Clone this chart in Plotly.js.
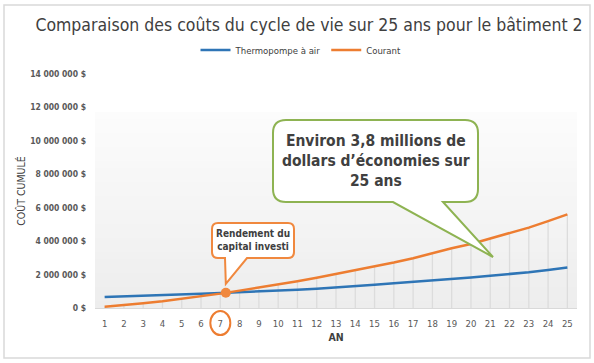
<!DOCTYPE html>
<html><head><meta charset="utf-8">
<script src="https://cdn.plot.ly/plotly-3.0.1.min.js"></script>
<style>html,body{margin:0;padding:0;background:#fff}</style>
</head><body><div id="chart" style="width:594px;height:363px"></div>
<script>
const years = [1,2,3,4,5,6,7,8,9,10,11,12,13,14,15,16,17,18,19,20,21,22,23,24,25];
const thermopompe = [660000,690000,720000,760000,800000,850000,900000,940000,980000,1030000,1090000,1150000,1220000,1310000,1390000,1480000,1560000,1640000,1720000,1820000,1930000,2020000,2140000,2280000,2420000];
const courant = [80000,170000,290000,410000,550000,710000,860000,1040000,1220000,1410000,1600000,1810000,2030000,2260000,2500000,2720000,2980000,3280000,3570000,3830000,4170000,4490000,4810000,5200000,5600000];
const yTickValues = [0,2000000,4000000,6000000,8000000,10000000,12000000,14000000];
const yTickLabels = ['0 $','2 000 000 $','4 000 000 $','6 000 000 $','8 000 000 $','10 000 000 $','12 000 000 $','14 000 000 $'];
const seriesNames = ['Thermopompe à air','Courant'];
const titleText = 'Comparaison des coûts du cycle de vie sur 25 ans pour le bâtiment 2';
const roiText = 'Rendement du<br>capital investi';
const savingsText = 'Environ 3,8 millions de<br>dollars d’économies sur<br>25 ans';

const FONT = "'Liberation Sans Narrow','DejaVu Sans Condensed',Roboto,sans-serif";
const L=95, T=74, W=482, H=234, R=594-L-W, B=363-T-H;
const XR=[0.5,25.5], YR=[0,14000000];
const fx = p => (p-L)/W, fy = p => (T+H-p)/H;
const P = (x,y) => fx(x)+','+fy(y);

// crossing point computed from data
let xc=null, yc=null;
for (let i=0;i<years.length-1;i++){
  const d0=courant[i]-thermopompe[i], d1=courant[i+1]-thermopompe[i+1];
  if (d0<0 && d1>=0){ const t=d0/(d0-d1); xc=years[i]+t*(years[i+1]-years[i]); yc=thermopompe[i]+t*(thermopompe[i+1]-thermopompe[i]); break; }
}
const cpx = L + (xc-XR[0])/(XR[1]-XR[0])*W;
const cpy = T + H - (yc-YR[0])/(YR[1]-YR[0])*H;

function callout(x0,y0,x1,y1,r,b0,b1,tx,ty){
  return 'M'+P(x0+r,y0)+' L'+P(x1-r,y0)+' Q'+P(x1,y0)+' '+P(x1,y0+r)+
    ' L'+P(x1,y1-r)+' Q'+P(x1,y1)+' '+P(x1-r,y1)+
    ' L'+P(b1,y1)+' L'+P(tx,ty)+' L'+P(b0,y1)+
    ' L'+P(x0+r,y1)+' Q'+P(x0,y1)+' '+P(x0,y1-r)+
    ' L'+P(x0,y0+r)+' Q'+P(x0,y0)+' '+P(x0+r,y0)+' Z';
}

const shapes = [];
// background gradient
const g0=112, g1=308, N=28;
for (let i=0;i<N;i++){
  const a=g0+(g1-g0)*i/N, b=g0+(g1-g0)*(i+1)/N;
  const c=Math.round(252-(252-237)*(i+0.5)/N);
  shapes.push({type:'rect',xref:'paper',yref:'paper',x0:0,x1:1,y0:fy(b),y1:fy(a),fillcolor:`rgb(${c},${c},${c})`,line:{width:0},layer:'below'});
}
// outer border
shapes.push({type:'rect',xref:'paper',yref:'paper',x0:fx(4),x1:fx(590),y0:fy(358),y1:fy(5),line:{color:'#d9d9d9',width:1.5},fillcolor:'rgba(0,0,0,0)',layer:'below'});
// green callout
shapes.push({type:'path',xref:'paper',yref:'paper',path:callout(273,120,478,202,13,393,443,493,257),fillcolor:'#ffffff',line:{color:'#8EB352',width:2}});
// orange callout
shapes.push({type:'path',xref:'paper',yref:'paper',path:callout(212,223,294,258,6,225,247,cpx,cpy-9),fillcolor:'#ffffff',line:{color:'#F0883E',width:2}});
// ellipse around year 7 label
const sevenX = L + (7-XR[0])/(XR[1]-XR[0])*W;
shapes.push({type:'circle',xref:'paper',yref:'paper',x0:fx(sevenX-10),x1:fx(sevenX+10),y0:fy(335),y1:fy(311),line:{color:'#ED7D31',width:2},fillcolor:'rgba(0,0,0,0)'});

const traces = [
  {x:years,y:courant,type:'scatter',mode:'markers',marker:{size:1,opacity:0},showlegend:false,hoverinfo:'skip',
   error_y:{type:'data',symmetric:false,array:years.map(()=>0),arrayminus:courant,color:'#dcdcdc',thickness:1.3,width:0}},
  {x:years,y:thermopompe,type:'scatter',mode:'lines',name:seriesNames[0],line:{color:'#2E75B6',width:2.5}},
  {x:years,y:courant,type:'scatter',mode:'lines',name:seriesNames[1],line:{color:'#ED7D31',width:2.5}},
  {x:[xc],y:[yc],type:'scatter',mode:'markers',marker:{color:'#F0883E',size:10},showlegend:false,hoverinfo:'skip'}
];

const layout = {
  width:594,height:363,
  margin:{l:L,r:R,t:T,b:B},
  paper_bgcolor:'#ffffff',plot_bgcolor:'rgba(0,0,0,0)',
  font:{family:FONT,color:'#595959'},
  title:{text:titleText,x:309/594,xanchor:'center',y:1-25/363,yanchor:'middle',font:{family:FONT,size:17.5,color:'#404040'}},
  showlegend:true,
  legend:{orientation:'h',x:fx(301),xanchor:'center',y:fy(50),yanchor:'middle',font:{family:FONT,size:9.5,color:'#404040'},bgcolor:'rgba(0,0,0,0)',traceorder:'normal',itemwidth:30},
  xaxis:{range:XR,tickvals:years,ticktext:years.map(String),showgrid:false,zeroline:false,showline:true,linecolor:'#d9d9d9',linewidth:1.3,ticks:'',
    tickfont:{family:FONT,size:9.5,color:'#595959'},ticklabelstandoff:6,
    title:{text:'AN',font:{family:FONT,size:10.5,color:'#404040',weight:'bold'},standoff:6},automargin:false},
  yaxis:{range:YR,tickvals:yTickValues,ticktext:yTickLabels,showgrid:false,zeroline:false,showline:false,ticks:'',
    tickfont:{family:FONT,size:8.5,color:'#595959',weight:'bold'},ticklabelstandoff:8,
    title:{text:'COÛT CUMULÉ',font:{family:FONT,size:10.5,color:'#404040'},standoff:2},automargin:false},
  shapes:shapes,
  annotations:[
    {xref:'paper',yref:'paper',x:fx(253),y:fy(240),text:roiText,showarrow:false,xanchor:'center',yanchor:'middle',font:{family:FONT,size:10,color:'#404040',weight:'bold'}},
    {xref:'paper',yref:'paper',x:fx(375.5),y:fy(161),text:savingsText,showarrow:false,xanchor:'center',yanchor:'middle',font:{family:FONT,size:15.5,color:'#404040',weight:'bold'}}
  ]
};
Plotly.newPlot('chart',traces,layout,{displayModeBar:false,staticPlot:true});
</script></body></html>
